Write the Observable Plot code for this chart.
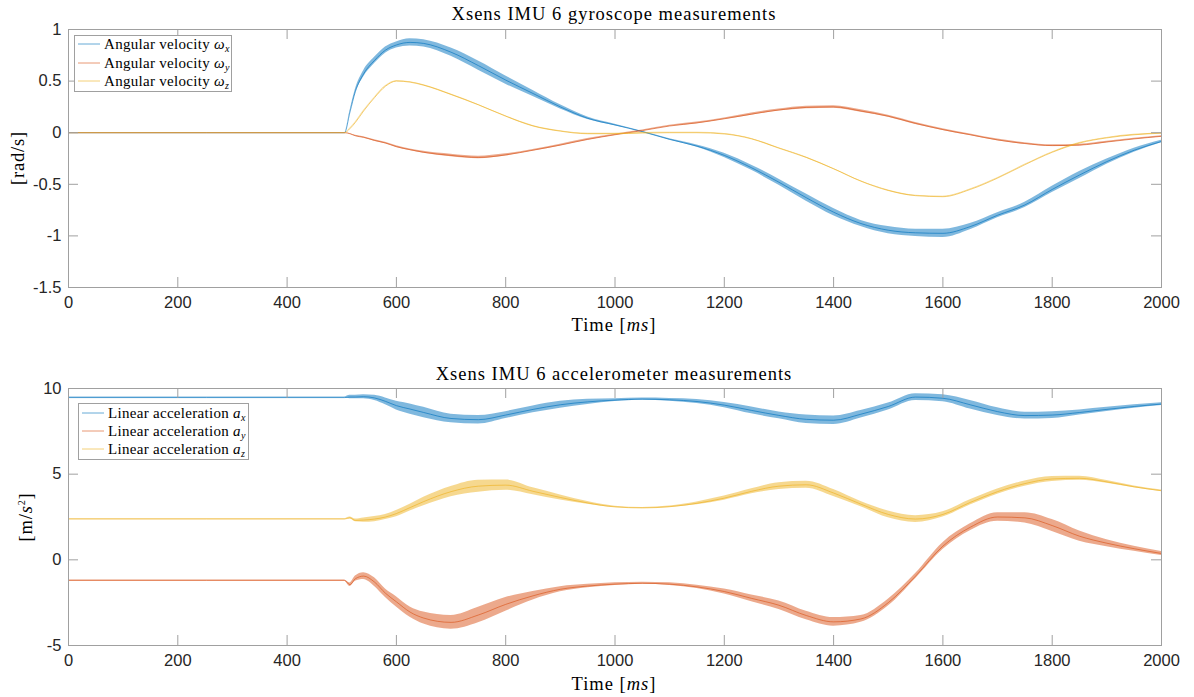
<!DOCTYPE html>
<html>
<head>
<meta charset="utf-8">
<script src="https://cdn.jsdelivr.net/npm/d3@7"></script>
<script src="https://cdn.jsdelivr.net/npm/@observablehq/plot@0.6"></script>
<style>
  body { margin: 0; background: #fff; }
  #root { position: relative; width: 1194px; height: 697px; overflow: hidden; background: #fff;
          font-family: "Liberation Serif", serif; color: #000; }
  .abs { position: absolute; white-space: nowrap; line-height: 1; }
  .title { font-size: 18.5px; letter-spacing: 1px; transform: translate(-50%, -50%); }
  .xlabel { font-size: 18.5px; letter-spacing: 1px; transform: translate(-50%, -50%); }
  .ylabel { font-size: 18.5px; letter-spacing: 0.8px; transform: translate(-50%, -50%) rotate(-90deg); }
  .legend { border: 1px solid #a0a0a0; background: #fff; box-sizing: border-box; }
  .lrow { position: absolute; left: 0; height: 16px; display: flex; align-items: center; }
  .lline { display: block; margin-left: 3px; margin-right: 4px; }
  .ltext { font-size: 15px; letter-spacing: 0.3px; }
  sub { font-size: 10px; vertical-align: -3px; line-height: 0; }
  sup { font-size: 10px; vertical-align: 7px; line-height: 0; }
</style>
</head>
<body>
<div id="root"></div>
<script>
// ---------- data ----------
const time = [0, 505, 515, 525, 540, 560, 580, 600, 625, 650,
  700, 750, 800, 850, 900, 950, 1000, 1050, 1100, 1150, 1200, 1250, 1300, 1350,
  1400, 1450, 1500, 1550, 1600, 1650, 1700, 1750, 1800, 1850, 1900, 1950, 2000];

// gyroscope [rad/s]
const gyroX = [0, 0, 0.2, 0.40, 0.57, 0.70, 0.80, 0.85, 0.875, 0.865,
  0.78, 0.65, 0.51, 0.38, 0.25, 0.14, 0.075, 0.01, -0.065, -0.13, -0.22, -0.34, -0.48, -0.63,
  -0.77, -0.88, -0.945, -0.97, -0.975, -0.91, -0.80, -0.70, -0.55, -0.41, -0.28, -0.17, -0.085];
const gyroXNoise = [0, 0, 0.01, 0.02, 0.03, 0.03, 0.03, 0.03, 0.035, 0.035,
  0.04, 0.045, 0.04, 0.03, 0.02, 0.012, 0.008, 0.005, 0.006, 0.01, 0.02, 0.025, 0.03, 0.035,
  0.035, 0.03, 0.035, 0.035, 0.04, 0.03, 0.025, 0.025, 0.03, 0.035, 0.025, 0.02, 0.012];
const gyroY = [0, 0, -0.01, -0.03, -0.045, -0.075, -0.10, -0.135, -0.165, -0.19,
  -0.22, -0.24, -0.215, -0.17, -0.12, -0.065, -0.02, 0.02, 0.065, 0.095, 0.135, 0.18, 0.22, 0.245,
  0.25, 0.21, 0.16, 0.09, 0.03, -0.02, -0.07, -0.105, -0.125, -0.12, -0.09, -0.06, -0.035];
const gyroYNoise = [0, 0, 0.003, 0.005, 0.006, 0.007, 0.008, 0.008, 0.008, 0.01,
  0.012, 0.012, 0.01, 0.008, 0.008, 0.008, 0.006, 0.006, 0.006, 0.008, 0.008, 0.01, 0.01, 0.012,
  0.012, 0.012, 0.01, 0.01, 0.008, 0.008, 0.008, 0.008, 0.008, 0.008, 0.008, 0.006, 0.006];
const gyroZ = [0, 0, 0.04, 0.10, 0.21, 0.34, 0.45, 0.50, 0.49, 0.46,
  0.37, 0.27, 0.16, 0.065, 0.015, -0.01, -0.01, -0.003, 0, 0, -0.012, -0.06, -0.15, -0.24,
  -0.35, -0.47, -0.56, -0.61, -0.62, -0.55, -0.44, -0.31, -0.19, -0.10, -0.05, -0.02, -0.005];
const gyroZNoise = [0, 0, 0.003, 0.004, 0.004, 0.004, 0.004, 0.004, 0.004, 0.004,
  0.004, 0.004, 0.004, 0.004, 0.004, 0.004, 0.004, 0.004, 0.004, 0.004, 0.004, 0.004, 0.004, 0.004,
  0.004, 0.004, 0.004, 0.004, 0.004, 0.004, 0.004, 0.004, 0.004, 0.004, 0.004, 0.004, 0.004];

// accelerometer [m/s^2]
const accX = [9.47, 9.47, 9.5, 9.5, 9.52, 9.45, 9.25, 9.0, 8.8, 8.6,
  8.25, 8.18, 8.45, 8.78, 9.05, 9.22, 9.32, 9.38, 9.34, 9.24, 9.03, 8.72, 8.43, 8.2,
  8.15, 8.5, 8.95, 9.5, 9.43, 9.05, 8.65, 8.42, 8.45, 8.6, 8.78, 8.95, 9.09];
const accXNoise = [0.03, 0.03, 0.1, 0.1, 0.12, 0.15, 0.2, 0.25, 0.3, 0.3,
  0.25, 0.25, 0.2, 0.2, 0.2, 0.15, 0.08, 0.06, 0.08, 0.12, 0.15, 0.2, 0.2, 0.25,
  0.25, 0.22, 0.2, 0.2, 0.2, 0.25, 0.22, 0.2, 0.2, 0.15, 0.12, 0.1, 0.08];
const accY = [-1.2, -1.2, -1.45, -1.1, -0.95, -1.3, -1.95, -2.45, -3.05, -3.4,
  -3.65, -3.22, -2.6, -2.1, -1.72, -1.53, -1.42, -1.37, -1.42, -1.58, -1.85, -2.25, -2.65, -3.25,
  -3.62, -3.45, -2.5, -0.95, 0.8, 1.9, 2.5, 2.45, 2.0, 1.38, 0.97, 0.65, 0.37];
const accYNoise = [0.03, 0.03, 0.1, 0.15, 0.2, 0.25, 0.25, 0.3, 0.3, 0.35,
  0.4, 0.45, 0.4, 0.25, 0.15, 0.1, 0.08, 0.06, 0.08, 0.1, 0.15, 0.2, 0.25, 0.25,
  0.25, 0.2, 0.2, 0.15, 0.2, 0.2, 0.25, 0.3, 0.35, 0.3, 0.2, 0.15, 0.12];
const accZ = [2.38, 2.38, 2.45, 2.3, 2.32, 2.38, 2.5, 2.7, 3.05, 3.4,
  3.98, 4.3, 4.36, 4.0, 3.64, 3.32, 3.09, 3.03, 3.1, 3.3, 3.6, 4.0, 4.3, 4.38,
  3.9, 3.25, 2.65, 2.38, 2.65, 3.35, 3.98, 4.45, 4.72, 4.76, 4.55, 4.26, 4.03];
const accZNoise = [0.02, 0.02, 0.05, 0.08, 0.12, 0.15, 0.15, 0.18, 0.2, 0.25,
  0.3, 0.35, 0.3, 0.2, 0.15, 0.08, 0.04, 0.03, 0.04, 0.08, 0.12, 0.15, 0.2, 0.2,
  0.2, 0.15, 0.2, 0.2, 0.15, 0.15, 0.15, 0.15, 0.15, 0.12, 0.08, 0.05, 0.04];

const xTicks = [0, 200, 400, 600, 800, 1000, 1200, 1400, 1600, 1800, 2000];
const gyroTicks = [-1.5, -1, -0.5, 0, 0.5, 1];
const accTicks = [-5, 0, 5, 10];
const colors = ["#0072BD", "#D95319", "#EDB120"];
const axisNames = ["x", "y", "z"];
// ---------------------------------------------------

const W = 1194, ML = 68, MR = 33;
const axisColor = "#a0a0a0";

function makePlot({height, marginTop, marginBottom, yDomain, yTicks, series}) {
  const frameH = height - marginTop - marginBottom;
  const frameW = W - ML - MR;
  const marks = [];
  series.forEach((s, k) => {
    const rows = time.map((t, i) => ({t, v: s.values[i], n: s.noise[i]}));
    marks.push(Plot.areaY(rows, {x: "t", y1: d => d.v - d.n, y2: d => d.v + d.n,
      fill: colors[k], fillOpacity: 0.5, curve: "monotone-x"}));
    marks.push(Plot.line(rows, {x: "t", y: "v", stroke: colors[k], strokeWidth: 0.8,
      strokeOpacity: 0.8, curve: "monotone-x"}));
  });
  marks.push(Plot.frame({stroke: axisColor, strokeWidth: 1}));
  marks.push(Plot.tickX(xTicks, {x: d => d, insetTop: frameH - 10, stroke: axisColor}));
  marks.push(Plot.tickX(xTicks, {x: d => d, insetBottom: frameH - 10, stroke: axisColor}));
  marks.push(Plot.tickY(yTicks, {y: d => d, insetRight: frameW - 10, stroke: axisColor}));
  marks.push(Plot.tickY(yTicks, {y: d => d, insetLeft: frameW - 10, stroke: axisColor}));
  marks.push(Plot.axisX(xTicks, {tickSize: 0, tickPadding: 9, tickFormat: d => String(d), label: null, fontSize: 16.5}));
  marks.push(Plot.axisY(yTicks, {tickSize: 0, tickPadding: 7, tickFormat: d => String(d), label: null, fontSize: 16.5}));
  return Plot.plot({
    width: W, height, marginTop, marginBottom, marginLeft: ML, marginRight: MR,
    x: {domain: [0, 2000]},
    y: {domain: yDomain},
    clip: true,
    style: {fontFamily: "'Liberation Sans', Arial, sans-serif", color: "#262626", background: "transparent", overflow: "visible"},
    marks
  });
}

const root = document.getElementById("root");

const gyroPlot = makePlot({height: 345, marginTop: 29, marginBottom: 58, yDomain: [-1.5, 1], yTicks: gyroTicks,
  series: [{values: gyroX, noise: gyroXNoise}, {values: gyroY, noise: gyroYNoise}, {values: gyroZ, noise: gyroZNoise}]});
gyroPlot.style.position = "absolute"; gyroPlot.style.top = "0px"; gyroPlot.style.left = "0px";
root.appendChild(gyroPlot);

const accPlot = makePlot({height: 352, marginTop: 43, marginBottom: 52, yDomain: [-5, 10], yTicks: accTicks,
  series: [{values: accX, noise: accXNoise}, {values: accY, noise: accYNoise}, {values: accZ, noise: accZNoise}]});
accPlot.style.position = "absolute"; accPlot.style.top = "345px"; accPlot.style.left = "0px";
root.appendChild(accPlot);

function addDiv(cls, html, x, y) {
  const d = document.createElement("div");
  d.className = "abs " + cls;
  d.innerHTML = html;
  d.style.left = x + "px"; d.style.top = y + "px";
  root.appendChild(d);
  return d;
}

addDiv("title", "Xsens IMU 6 gyroscope measurements", 614, 14);
addDiv("title", "Xsens IMU 6 accelerometer measurements", 614, 374);
addDiv("xlabel", "Time [<i>ms</i>]", 614, 325);
addDiv("xlabel", "Time [<i>ms</i>]", 614, 684);
addDiv("ylabel", "[rad/s]", 18, 158);
addDiv("ylabel", "[m/<i>s</i><sup>2</sup>]", 26, 517);

function addLegend(x, y, w, h, labels, rowYs) {
  const box = document.createElement("div");
  box.className = "abs legend";
  box.style.left = x + "px"; box.style.top = y + "px";
  box.style.width = w + "px"; box.style.height = h + "px";
  labels.forEach((lab, k) => {
    const row = document.createElement("div");
    row.className = "lrow";
    row.style.top = (rowYs[k] - 8) + "px";
    row.innerHTML = `<svg class="lline" width="22" height="4"><line x1="0" x2="22" y1="2" y2="2" stroke="${colors[k]}" stroke-opacity="0.6" stroke-width="1"/></svg><div class="ltext">${lab}</div>`;
    box.appendChild(row);
  });
  root.appendChild(box);
}

addLegend(74, 35, 158, 57,
  axisNames.map(n => `Angular velocity <i>ω</i><sub><i>${n}</i></sub>`), [8, 27, 45]);
addLegend(78, 403, 171, 57,
  axisNames.map(n => `Linear acceleration <i>a</i><sub><i>${n}</i></sub>`), [9, 27, 45]);
</script>
</body>
</html>
